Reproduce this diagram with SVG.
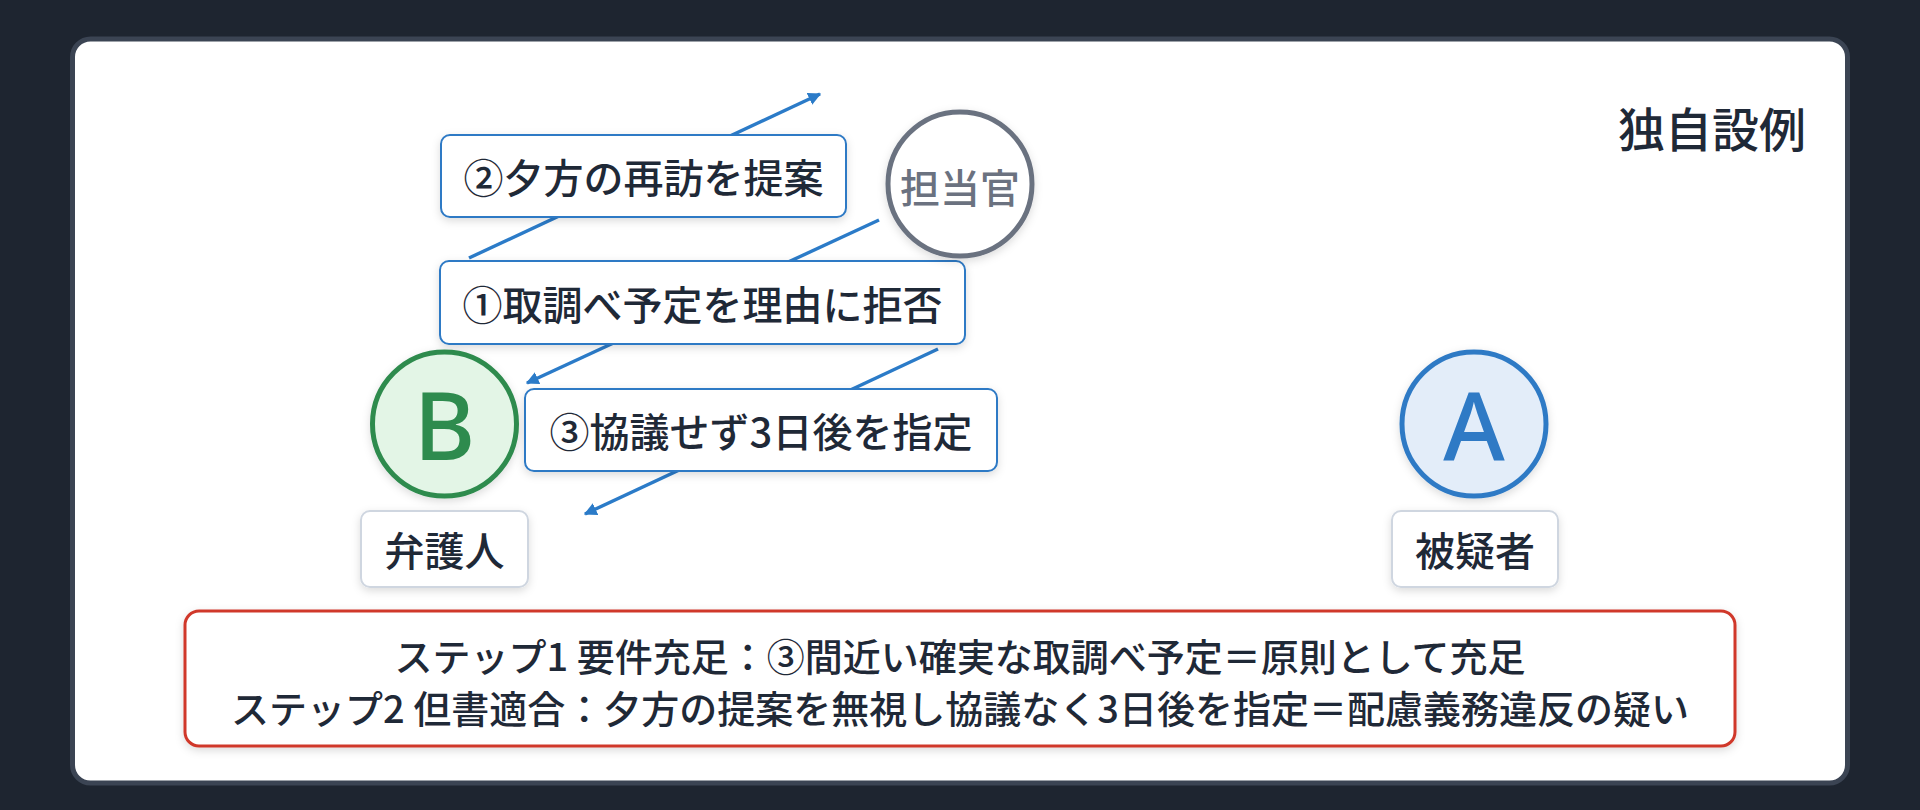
<svg xmlns="http://www.w3.org/2000/svg" width="1920" height="810" viewBox="0 0 1920 810">
  <defs>
    <filter id="sh" x="-20%" y="-30%" width="140%" height="160%">
      <feDropShadow dx="0" dy="3" stdDeviation="4" flood-color="#000" flood-opacity="0.14"/>
    </filter>
    <marker id="arr" viewBox="0 0 10 10" refX="9" refY="5" markerWidth="3.8" markerHeight="3.8" orient="auto" markerUnits="strokeWidth">
      <path d="M0,0 L10,5 L0,10 z" fill="#2b7bc8"/>
    </marker>
    <style>
      .txt{font-family:"Noto Sans CJK JP","Noto Sans",sans-serif;fill:#1f2937;font-weight:500;}
      .lbl{font-size:40px;text-anchor:middle;dominant-baseline:central;}
      .edge{stroke:#2b7bc8;stroke-width:3.4;fill:none;marker-end:url(#arr);}
      .ebox{fill:#fff;stroke:#2f7ac5;stroke-width:2;filter:url(#sh);}
      .nbox{fill:#fff;stroke:#cfd6e0;stroke-width:2;filter:url(#sh);}
      .big{font-family:"Noto Sans","Liberation Sans",sans-serif;font-size:94px;font-weight:500;text-anchor:middle;dominant-baseline:central;}
    </style>
  </defs>
  <rect x="0" y="0" width="1920" height="810" fill="#1e2530"/>
  <rect x="72.5" y="39" width="1775" height="744" rx="18" fill="#ffffff" stroke="#3b4453" stroke-width="5"/>

  <g id="title">
    <text class="txt" x="1806" y="126" font-size="47" text-anchor="end" dominant-baseline="central">独自設例</text>
  </g>

  <g id="connectors">
    <line class="edge" x1="469" y1="258" x2="820" y2="94"/>
    <line class="edge" x1="879" y1="220" x2="527" y2="383"/>
    <line class="edge" x1="938" y1="349" x2="585" y2="514"/>
    <g id="label2">
      <rect class="ebox" x="441" y="135" width="405" height="82" rx="9"/>
      <text class="txt lbl" x="643.5" y="176">②夕方の再訪を提案</text>
    </g>
    <g id="label1">
      <rect class="ebox" x="440" y="261" width="525" height="83" rx="9"/>
      <text class="txt lbl" x="702.5" y="302.5">①取調べ予定を理由に拒否</text>
    </g>
    <g id="label3">
      <rect class="ebox" x="525" y="389" width="472" height="82" rx="9"/>
      <text class="txt lbl" x="761" y="430">③協議せず3日後を指定</text>
    </g>
  </g>

  <g id="officer">
    <circle cx="960" cy="184" r="72" fill="#ffffff" stroke="#6b7280" stroke-width="5" filter="url(#sh)"/>
    <text class="txt lbl" x="960" y="186" style="fill:#6b7280">担当官</text>
  </g>

  <g id="lawyer">
    <circle cx="444.5" cy="424" r="72" fill="#e3f5e6" stroke="#2e8b4e" stroke-width="5" filter="url(#sh)"/>
    <text class="big" x="444.5" y="424" fill="#2e8b4e">B</text>
    <rect class="nbox" x="361" y="511" width="167" height="76" rx="9"/>
    <text class="txt lbl" x="444.5" y="549">弁護人</text>
  </g>

  <g id="suspect">
    <circle cx="1474" cy="424" r="72" fill="#e3edf9" stroke="#2f7ac5" stroke-width="5" filter="url(#sh)"/>
    <text class="big" x="1474" y="424" fill="#2f7ac5">A</text>
    <rect class="nbox" x="1392" y="511" width="166" height="76" rx="9"/>
    <text class="txt lbl" x="1475" y="549">被疑者</text>
  </g>

  <g id="summary">
    <rect x="185" y="611" width="1550" height="135" rx="14" fill="#ffffff" stroke="#d0392b" stroke-width="3" filter="url(#sh)"/>
    <text class="txt" x="960" y="654" font-size="38" text-anchor="middle" dominant-baseline="central">ステップ1 要件充足：③間近い確実な取調べ予定＝原則として充足</text>
    <text class="txt" x="960" y="706" font-size="38" text-anchor="middle" dominant-baseline="central">ステップ2 但書適合：夕方の提案を無視し協議なく3日後を指定＝配慮義務違反の疑い</text>
  </g>
</svg>
